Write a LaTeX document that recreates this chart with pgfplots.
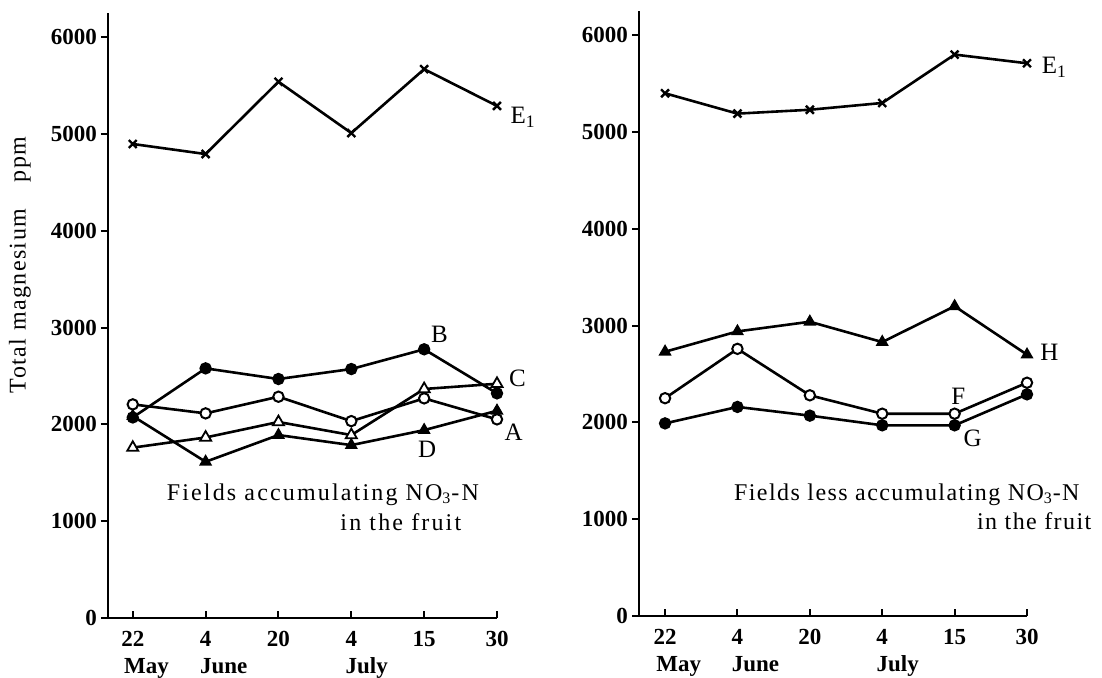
\documentclass[border=0pt]{standalone}
\usepackage{pgfplots}
\pgfplotsset{compat=1.18}
\usepackage{fontspec}
\setmainfont{Liberation Serif}
\newfontfamily\spaced[LetterSpace=6]{Liberation Serif}
\newfontfamily\spacedw[LetterSpace=9]{Liberation Serif}
\pgfplotsset{
  panel/.style={
    scale only axis, axis lines*=left, clip=false,
    axis line style={line width=1.2pt},
    height=302.5pt,
    ymin=0, ymax=6250, ytick={0,1000,2000,3000,4000,5000,6000},
    xmax=5.0, xtick={0,1,2,3,4,5}, xticklabels={22,4,20,4,15,30},
    tick align=inside, major tick length=3.5pt,
    tick style={line width=1pt, black},
    ytick style={xshift=-3.5pt},
    /pgf/number format/assume math mode=true,
    /pgf/number format/1000 sep={},
    scaled y ticks=false,
    ticklabel style={font=\bfseries\fontsize{11.5}{11.5}\selectfont},
    xticklabel style={anchor=base, yshift=-14pt},
    yticklabel style={xshift=-2pt},
    every axis plot/.append style={line width=1.3pt, black},
  },
}
\tikzset{
  mE/.style={mark=x, mark size=2.8pt, mark options={line width=1.2pt}},
  mfc/.style={mark=*, mark size=2.7pt, mark options={fill=black, line width=0.8pt}},
  moc/.style={mark=*, mark size=2.6pt, mark options={fill=white, line width=1pt}},
  mft/.style={mark=triangle*, mark size=3.2pt, mark options={fill=black, line width=0.6pt}},
  mot/.style={mark=triangle*, mark size=3.2pt, mark options={fill=white, line width=0.9pt}},
  lab/.style={font=\fontsize{12.5}{12.5}\selectfont, inner sep=0pt},
  mon/.style={font=\bfseries\fontsize{11.5}{11.5}\selectfont, inner sep=0pt, anchor=base west},
}
\begin{document}
\begin{tikzpicture}
\useasboundingbox (-54pt,-29.5pt) rectangle (497pt,309pt);
% ---------------- left panel ----------------
\begin{axis}[panel, at={(0pt,0pt)}, anchor=south west, width=194.5pt, xmin=-0.34]
\addplot[mE] coordinates {(0,4897)(1,4793)(2,5540)(3,5010)(4,5670)(5,5290)};
\addplot[mfc] coordinates {(0,2072)(1,2579)(2,2469)(3,2572)(4,2776)(5,2321)};
\addplot[moc] coordinates {(0,2207)(1,2114)(2,2286)(3,2034)(4,2269)(5,2052)};
\addplot[mot] coordinates {(0,1760)(1,1865)(2,2025)(3,1890)(4,2366)(5,2420)};
\addplot[mft] coordinates {(0,2086)(1,1614)(2,1890)(3,1786)(4,1941)(5,2141)};
\node[lab, anchor=west] at (axis cs:5.18,5170) {E\textsubscript{1}};
\node[lab] at (axis cs:4.21,2930) {B};
\node[lab] at (axis cs:5.28,2476) {C};
\node[lab] at (axis cs:5.23,1924) {A};
\node[lab] at (axis cs:4.04,1741) {D};
\node[font=\spacedw\fontsize{12}{12}\selectfont, inner sep=0pt] at (axis cs:2.61,1275) {Fields accumulating NO\textsubscript{3}-N};
\node[font=\spacedw\fontsize{12}{12}\selectfont, inner sep=0pt] at (axis cs:3.68,995) {in the fruit};
\node[mon] at ([xshift=-4.5pt,yshift=-27.5pt]axis cs:0,0) {May};
\node[mon] at ([xshift=-3pt,yshift=-27.5pt]axis cs:1,0) {June};
\node[mon] at ([xshift=-3pt,yshift=-27.5pt]axis cs:3,0) {July};
\end{axis}
\node[font=\spaced\fontsize{12}{12}\selectfont, rotate=90] at (-44pt,176.5pt) {Total magnesium\hspace{1.1em}ppm};
% ---------------- right panel ----------------
\begin{axis}[panel, at={(265.5pt,1pt)}, anchor=south west, width=194pt, xmin=-0.36]
\addplot[mE] coordinates {(0,5400)(1,5190)(2,5230)(3,5300)(4,5800)(5,5710)};
\addplot[mft] coordinates {(0,2730)(1,2940)(2,3040)(3,2830)(4,3200)(5,2700)};
\addplot[moc] coordinates {(0,2250)(1,2760)(2,2280)(3,2090)(4,2090)(5,2410)};
\addplot[mfc] coordinates {(0,1990)(1,2160)(2,2070)(3,1970)(4,1970)(5,2290)};
\node[lab, anchor=west] at (axis cs:5.2,5670) {E\textsubscript{1}};
\node[lab] at (axis cs:5.31,2720) {H};
\node[lab] at (axis cs:4.05,2265) {F};
\node[lab] at (axis cs:4.25,1840) {G};
\node[font=\spaced\fontsize{12}{12}\selectfont, inner sep=0pt] at (axis cs:3.34,1255) {Fields less accumulating NO\textsubscript{3}-N};
\node[font=\spaced\fontsize{12}{12}\selectfont, inner sep=0pt] at (axis cs:5.1,975) {in the fruit};
\node[mon] at ([xshift=-4.5pt,yshift=-27.5pt]axis cs:0,0) {May};
\node[mon] at ([xshift=-3pt,yshift=-27.5pt]axis cs:1,0) {June};
\node[mon] at ([xshift=-3pt,yshift=-27.5pt]axis cs:3,0) {July};
\end{axis}
\end{tikzpicture}
\end{document}
